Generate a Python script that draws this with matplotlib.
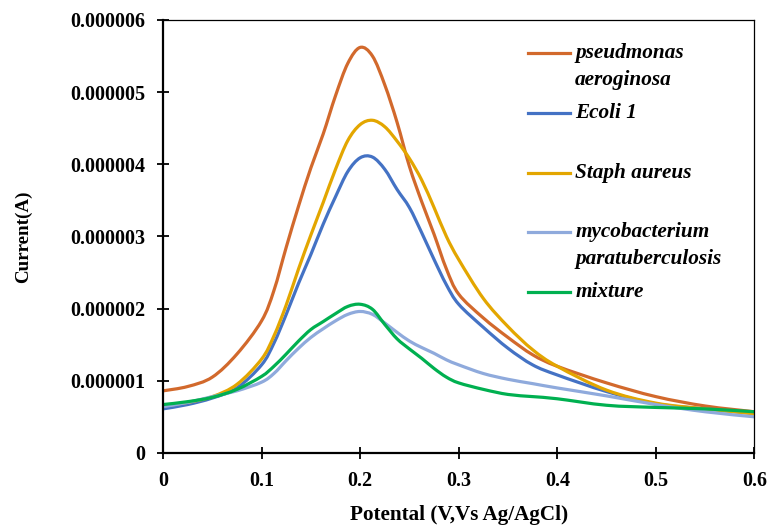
import numpy as np
import matplotlib.pyplot as plt
from matplotlib.path import Path
from matplotlib.patches import PathPatch
from matplotlib.ticker import FuncFormatter

plt.rcParams['font.family'] = ['Liberation Serif', 'DejaVu Serif']
plt.rcParams['font.weight'] = 'bold'

# Potential (V) and current (uA)
potential = [0, 0.025, 0.05, 0.075, 0.1, 0.1125, 0.125, 0.1375, 0.15, 0.1625,
             0.175, 0.1875, 0.2, 0.2125, 0.225, 0.2375, 0.25, 0.2625, 0.275,
             0.2875, 0.3, 0.325, 0.35, 0.375, 0.4, 0.45, 0.5, 0.55, 0.6]

pseudomonas = [0.86, 0.92, 1.05, 1.37, 1.83, 2.25, 2.85, 3.42, 3.95, 4.42,
               4.95, 5.40, 5.62, 5.50, 5.10, 4.58, 3.97, 3.48, 3.03,
               2.55, 2.20, 1.87, 1.60, 1.36, 1.20, 0.97, 0.78, 0.65, 0.57]
ecoli = [0.61, 0.67, 0.76, 0.90, 1.22, 1.52, 1.92, 2.35, 2.75, 3.17,
         3.55, 3.90, 4.09, 4.10, 3.93, 3.65, 3.40, 3.05, 2.68,
         2.33, 2.06, 1.74, 1.45, 1.22, 1.08, 0.85, 0.68, 0.61, 0.55]
staph = [0.65, 0.70, 0.78, 0.95, 1.30, 1.62, 2.05, 2.55, 3.02, 3.47,
         3.93, 4.33, 4.55, 4.61, 4.52, 4.32, 4.08, 3.78, 3.40,
         3.00, 2.68, 2.14, 1.75, 1.43, 1.20, 0.87, 0.69, 0.61, 0.54]
myco = [0.64, 0.70, 0.78, 0.86, 0.98, 1.10, 1.28, 1.45, 1.60, 1.72,
        1.83, 1.92, 1.96, 1.92, 1.80, 1.67, 1.55, 1.46, 1.38,
        1.29, 1.22, 1.10, 1.02, 0.96, 0.90, 0.79, 0.67, 0.57, 0.50]
mixture = [0.67, 0.71, 0.77, 0.88, 1.06, 1.20, 1.37, 1.55, 1.71, 1.82,
           1.93, 2.03, 2.06, 1.99, 1.78, 1.58, 1.44, 1.31, 1.17,
           1.05, 0.97, 0.88, 0.81, 0.78, 0.75, 0.66, 0.63, 0.61, 0.57]

labels = ["pseudmonas\naeroginosa", "Ecoli 1", "Staph aureus",
          "mycobacterium\nparatuberculosis", "mixture"]
series = [pseudomonas, ecoli, staph, myco, mixture]
colors = ["#D2692C", "#4472C4", "#E3A600", "#8FAADC", "#00B050"]


def smooth_path(x, y):
    # Excel-style smoothed line: cubic Bezier through every data point
    pts = np.column_stack([x, y])
    verts = [pts[0]]
    codes = [Path.MOVETO]
    n = len(pts)
    for i in range(n - 1):
        p0 = pts[max(i - 1, 0)]
        p1 = pts[i]
        p2 = pts[i + 1]
        p3 = pts[min(i + 2, n - 1)]
        verts += [p1 + (p2 - p0) / 6, p2 - (p3 - p1) / 6, p2]
        codes += [Path.CURVE4] * 3
    return Path(verts, codes)


fig = plt.figure(figsize=(7.69, 5.26), dpi=100)
ax = fig.add_axes([0.212, 0.139, 0.769, 0.823])

for vals, c in zip(series, colors):
    ax.add_patch(PathPatch(smooth_path(np.array(potential), np.array(vals) * 1e-6),
                           fill=False, edgecolor=c, lw=2.3,
                           capstyle='round', joinstyle='round'))

ax.set_xlim(0, 0.6)
ax.set_ylim(0, 6e-6)
ax.set_xticks(np.arange(0, 0.61, 0.1))
ax.set_yticks(np.arange(0, 6.1e-6, 1e-6))
ax.xaxis.set_major_formatter(FuncFormatter(lambda v, p: '0' if v == 0 else f'{v:.1f}'))
ax.yaxis.set_major_formatter(FuncFormatter(lambda v, p: '0' if v == 0 else f'{v:.6f}'))
ax.tick_params(direction='inout', length=8, width=1.3, labelsize=14.5)
ax.tick_params(axis='y', pad=9)
ax.tick_params(axis='x', pad=9)

for s in ['left', 'bottom']:
    ax.spines[s].set_linewidth(1.6)
for s in ['top', 'right']:
    ax.spines[s].set_linewidth(0.9)

ax.set_xlabel("Potental (V,Vs Ag/AgCl)", fontsize=15.2, fontweight='bold')
ax.set_ylabel("Current(A)", fontsize=13.7, fontweight='bold')
ax.xaxis.set_label_coords(0.5, -0.12)
ax.yaxis.set_label_coords(-0.222, 0.5)

# legend drawn by hand to keep the uneven spacing of the original
legend_y = [0.923, 0.785, 0.647, 0.511, 0.3725]
line_step = 27 / 433
for lab, c, y in zip(labels, colors, legend_y):
    ax.plot([0.618, 0.689], [y, y], color=c, lw=2.3, transform=ax.transAxes,
            clip_on=False)
    for i, part in enumerate(lab.split("\n")):
        ax.text(0.697, y - i * line_step, part, transform=ax.transAxes,
                fontsize=15.3, fontweight='bold', fontstyle='italic', va='center')

fig.savefig("out.png", dpi=100)
